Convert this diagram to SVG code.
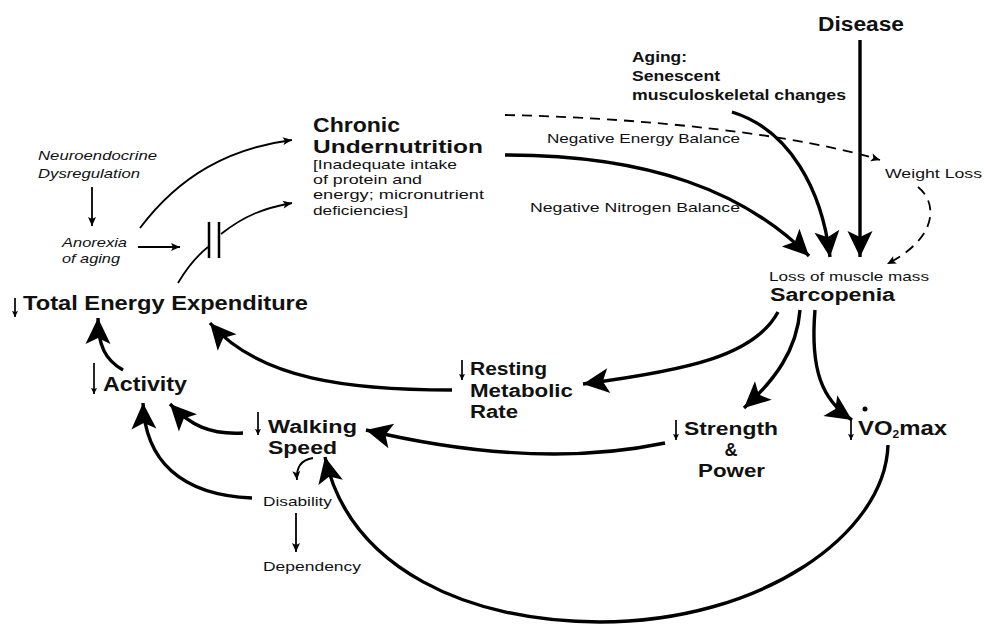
<svg xmlns="http://www.w3.org/2000/svg" width="984" height="624" viewBox="0 0 984 624">
<style>
text{font-family:"Liberation Sans","Open Sans",sans-serif;fill:#111}
.b{font-weight:bold}
.L{font-size:20px}
.N{font-size:18px}
.M{font-size:15px}
.s{font-size:13.5px}
.r{font-size:13px}
.i{font-style:italic;font-size:13px}
.thick{fill:none;stroke:#000;stroke-width:3.4}
.thin{fill:none;stroke:#000;stroke-width:1.8}
.dash{fill:none;stroke:#000;stroke-width:1.8;stroke-dasharray:10 7}
.da{fill:none;stroke:#000;stroke-width:1.7}
</style>
<defs>
<marker id="big" markerUnits="userSpaceOnUse" orient="auto" overflow="visible" markerWidth="30" markerHeight="30" refX="0" refY="0">
<path d="M0,0 L-26,-12.5 L-20,0 L-26,12.5 Z" fill="#000"/>
</marker>
<marker id="sm" markerUnits="userSpaceOnUse" orient="auto" overflow="visible" markerWidth="12" markerHeight="12" refX="0" refY="0">
<path d="M0,0 L-9,-4 L-7,0 L-9,4 Z" fill="#000"/>
</marker>
<marker id="tn" markerUnits="userSpaceOnUse" orient="auto" overflow="visible" markerWidth="8" markerHeight="8" refX="0" refY="0">
<path d="M0,0 L-6,-3 L-5,0 L-6,3 Z" fill="#000"/>
</marker>
</defs>

<g id="connectors">
<path class="thick" d="M860,40 L860,257" marker-end="url(#big)"/>
<path class="thick" d="M732,112 C790,130 822,190 830,257" marker-end="url(#big)"/>
<path class="thick" d="M505,155 C650,155 745,192 809,256" marker-end="url(#big)"/>
<path class="dash" d="M505,115 C650,118 800,135 880,160" marker-end="url(#sm)"/>
<path class="dash" d="M918,187 C938,203 938,238 887,264" marker-end="url(#sm)"/>
<path class="thick" d="M778,312 C755,355 690,370 583,384" marker-end="url(#big)"/>
<path class="thick" d="M800,310 C797,350 775,380 744,408" marker-end="url(#big)"/>
<path class="thick" d="M815,310 C810,370 822,400 852,420" marker-end="url(#big)"/>
<path class="thick" d="M452,390 C350,390 260,380 210,323" marker-end="url(#big)"/>
<path class="thick" d="M123,370 C105,360 98,345 98,318" marker-end="url(#big)"/>
<path class="thick" d="M243,433 C210,435 190,425 170,404" marker-end="url(#big)"/>
<path class="thick" d="M252,498 C180,495 145,460 143,403" marker-end="url(#big)"/>
<path class="thick" d="M665,443 C560,465 450,450 366,430" marker-end="url(#big)"/>
<path class="thick" d="M888,445 C885,535 760,622 600,622 C470,622 350,570 325,457" marker-end="url(#big)"/>
<path class="thin" d="M313,458 C300,460 296,468 297,480" marker-end="url(#sm)"/>
<path class="thin" d="M296,513 L296,552" marker-end="url(#sm)"/>
<path class="thin" d="M92,187 L92,226" marker-end="url(#sm)"/>
<path class="thin" d="M138,247 L180,247" marker-end="url(#sm)"/>
<path class="thin" d="M140,228 C180,175 230,148 292,140" marker-end="url(#sm)"/>
<path class="thin" d="M178,283 C188,266 198,255 208,247"/>
<path class="thin" d="M221,234 C245,215 265,208 292,203" marker-end="url(#sm)"/>
<path d="M209,222 V258 M219,222 V258" stroke="#000" stroke-width="2.5"/>
</g>

<g id="disease"><text class="b L" x="818" y="31" textLength="86" lengthAdjust="spacingAndGlyphs">Disease</text></g>
<g id="aging">
<text class="b M" x="632" y="62" textLength="55" lengthAdjust="spacingAndGlyphs">Aging:</text>
<text class="b M" x="632" y="81" textLength="88" lengthAdjust="spacingAndGlyphs">Senescent</text>
<text class="b M" x="632" y="100" textLength="214" lengthAdjust="spacingAndGlyphs">musculoskeletal changes</text>
</g>
<g id="chronic">
<text class="b L" x="313" y="132" textLength="87" lengthAdjust="spacingAndGlyphs">Chronic</text>
<text class="b N" x="313" y="153" textLength="170" lengthAdjust="spacingAndGlyphs">Undernutrition</text>
<text class="r" x="313" y="168.5" textLength="144" lengthAdjust="spacingAndGlyphs">[Inadequate intake</text>
<text class="r" x="313" y="183.5" textLength="109" lengthAdjust="spacingAndGlyphs">of protein and</text>
<text class="r" x="313" y="199" textLength="171" lengthAdjust="spacingAndGlyphs">energy; micronutrient</text>
<text class="r" x="313" y="214.5" textLength="95" lengthAdjust="spacingAndGlyphs">deficiencies]</text>
</g>
<g id="labels">
<text class="s" x="547" y="143" textLength="193" lengthAdjust="spacingAndGlyphs">Negative Energy Balance</text>
<text class="s" x="530" y="212" textLength="210" lengthAdjust="spacingAndGlyphs">Negative Nitrogen Balance</text>
</g>
<g id="weightloss"><text class="s" x="885" y="178" textLength="97" lengthAdjust="spacingAndGlyphs">Weight Loss</text></g>
<g id="sarcopenia">
<text class="r" x="769" y="281" textLength="160" lengthAdjust="spacingAndGlyphs">Loss of muscle mass</text>
<text class="b N" x="770" y="301" textLength="125" lengthAdjust="spacingAndGlyphs">Sarcopenia</text>
</g>
<g id="neuro">
<text class="i" x="38" y="160" textLength="119" lengthAdjust="spacingAndGlyphs">Neuroendocrine</text>
<text class="i" x="38" y="178" textLength="102" lengthAdjust="spacingAndGlyphs">Dysregulation</text>
</g>
<g id="anorexia">
<text class="i" x="62" y="247" textLength="65" lengthAdjust="spacingAndGlyphs">Anorexia</text>
<text class="i" x="62" y="263" textLength="58" lengthAdjust="spacingAndGlyphs">of aging</text>
</g>
<g id="tee">
<path class="da" d="M15,298 V317" marker-end="url(#tn)"/>
<text class="b L" x="23" y="310" textLength="285" lengthAdjust="spacingAndGlyphs">Total Energy Expenditure</text>
</g>
<g id="activity">
<path class="da" d="M94,363 V394" marker-end="url(#tn)"/>
<text class="b L" x="103" y="391" textLength="84" lengthAdjust="spacingAndGlyphs">Activity</text>
</g>
<g id="rmr">
<path class="da" d="M462,360 V380" marker-end="url(#tn)"/>
<text class="b N" x="470" y="375" textLength="77" lengthAdjust="spacingAndGlyphs">Resting</text>
<text class="b N" x="470" y="397" textLength="103" lengthAdjust="spacingAndGlyphs">Metabolic</text>
<text class="b N" x="470" y="418" textLength="48" lengthAdjust="spacingAndGlyphs">Rate</text>
</g>
<g id="strength">
<path class="da" d="M676,420 V440" marker-end="url(#tn)"/>
<text class="b N" x="684" y="435" textLength="94" lengthAdjust="spacingAndGlyphs">Strength</text>
<text class="b N" x="731" y="456" text-anchor="middle">&amp;</text>
<text class="b N" x="698" y="477" textLength="67" lengthAdjust="spacingAndGlyphs">Power</text>
</g>
<g id="vo2max">
<path class="da" d="M851,418 V440" marker-end="url(#tn)"/>
<circle cx="865" cy="409" r="2.5" fill="#000"/>
<text class="b L" x="858" y="435" textLength="89" lengthAdjust="spacingAndGlyphs">VO<tspan font-size="10" dy="3">2</tspan><tspan dy="-3">max</tspan></text>
</g>
<g id="walking">
<path class="da" d="M258,412 V435" marker-end="url(#tn)"/>
<text class="b N" x="268" y="433" textLength="89" lengthAdjust="spacingAndGlyphs">Walking</text>
<text class="b N" x="268" y="454" textLength="69" lengthAdjust="spacingAndGlyphs">Speed</text>
</g>
<g id="disability"><text class="r" x="263" y="506" textLength="69" lengthAdjust="spacingAndGlyphs">Disability</text></g>
<g id="dependency"><text class="s" x="263" y="571" textLength="98" lengthAdjust="spacingAndGlyphs">Dependency</text></g>
</svg>
